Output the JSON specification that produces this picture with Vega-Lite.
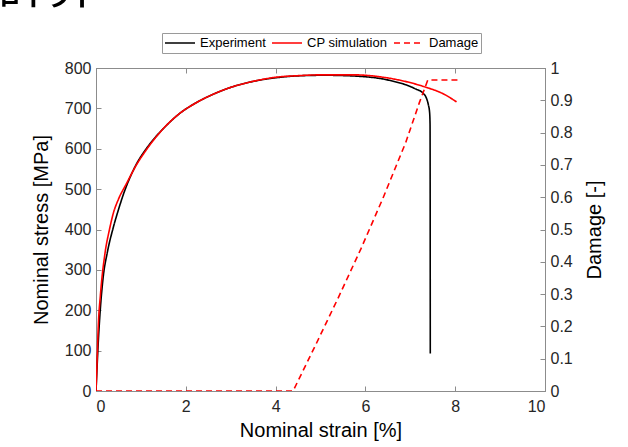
{
  "$schema": "https://vega.github.io/schema/vega-lite/v6.json",
  "width": 449,
  "height": 323,
  "autosize": {"type": "none"},
  "padding": {"left": 96, "top": 68, "right": 83, "bottom": 56},
  "background": "white",
  "title": {
    "text": "計算",
    "anchor": "start",
    "frame": "group",
    "orient": "top",
    "font": "Noto Sans CJK JP",
    "fontSize": 50,
    "fontWeight": "normal",
    "color": "black",
    "baseline": "alphabetic",
    "offset": 8,
    "dx": -98,
    "dy": 28
  },
  "config": {
    "font": "Liberation Sans",
    "view": {"stroke": "#8c8c8c", "strokeWidth": 1},
    "axis": {
      "grid": false,
      "domainColor": "#8c8c8c",
      "tickColor": "#8c8c8c",
      "tickSize": -5,
      "labelColor": "#262626",
      "titleColor": "black",
      "labelFont": "Liberation Sans",
      "titleFont": "Liberation Sans",
      "labelFontSize": 16,
      "titleFontSize": 20,
      "titleFontWeight": "normal"
    }
  },
  "datasets": {
    "stress": [
      {"series": "Experiment", "strain": 0, "stress": 0},
      {"series": "Experiment", "strain": 0.02, "stress": 50},
      {"series": "Experiment", "strain": 0.05, "stress": 120},
      {"series": "Experiment", "strain": 0.09, "stress": 193},
      {"series": "Experiment", "strain": 0.16, "stress": 282},
      {"series": "Experiment", "strain": 0.25, "stress": 342},
      {"series": "Experiment", "strain": 0.385, "stress": 405},
      {"series": "Experiment", "strain": 0.5, "stress": 449},
      {"series": "Experiment", "strain": 0.61, "stress": 487},
      {"series": "Experiment", "strain": 0.75, "stress": 527},
      {"series": "Experiment", "strain": 0.905, "stress": 563},
      {"series": "Experiment", "strain": 1.1, "stress": 597},
      {"series": "Experiment", "strain": 1.28, "stress": 623},
      {"series": "Experiment", "strain": 1.5, "stress": 650},
      {"series": "Experiment", "strain": 1.87, "stress": 688},
      {"series": "Experiment", "strain": 2.2, "stress": 712},
      {"series": "Experiment", "strain": 2.61, "stress": 735},
      {"series": "Experiment", "strain": 3.0, "stress": 752},
      {"series": "Experiment", "strain": 3.6, "stress": 769},
      {"series": "Experiment", "strain": 4.1, "stress": 777},
      {"series": "Experiment", "strain": 4.6, "stress": 781},
      {"series": "Experiment", "strain": 5.1, "stress": 782},
      {"series": "Experiment", "strain": 5.77, "stress": 780},
      {"series": "Experiment", "strain": 6.51, "stress": 770},
      {"series": "Experiment", "strain": 7.1, "stress": 749},
      {"series": "Experiment", "strain": 7.29, "stress": 737},
      {"series": "Experiment", "strain": 7.36, "stress": 725},
      {"series": "Experiment", "strain": 7.4, "stress": 710},
      {"series": "Experiment", "strain": 7.43, "stress": 690},
      {"series": "Experiment", "strain": 7.44, "stress": 660},
      {"series": "Experiment", "strain": 7.445, "stress": 93},
      {"series": "CP simulation", "strain": 0, "stress": 0},
      {"series": "CP simulation", "strain": 0.02, "stress": 60},
      {"series": "CP simulation", "strain": 0.05, "stress": 159},
      {"series": "CP simulation", "strain": 0.1, "stress": 240},
      {"series": "CP simulation", "strain": 0.2, "stress": 341},
      {"series": "CP simulation", "strain": 0.3, "stress": 400},
      {"series": "CP simulation", "strain": 0.385, "stress": 440},
      {"series": "CP simulation", "strain": 0.5, "stress": 475},
      {"series": "CP simulation", "strain": 0.68, "stress": 514},
      {"series": "CP simulation", "strain": 0.9, "stress": 560},
      {"series": "CP simulation", "strain": 1.1, "stress": 594},
      {"series": "CP simulation", "strain": 1.3, "stress": 624},
      {"series": "CP simulation", "strain": 1.5, "stress": 650},
      {"series": "CP simulation", "strain": 1.87, "stress": 688},
      {"series": "CP simulation", "strain": 2.2, "stress": 712},
      {"series": "CP simulation", "strain": 2.61, "stress": 735},
      {"series": "CP simulation", "strain": 3.0, "stress": 752},
      {"series": "CP simulation", "strain": 3.5, "stress": 767},
      {"series": "CP simulation", "strain": 4.0, "stress": 777},
      {"series": "CP simulation", "strain": 4.5, "stress": 781},
      {"series": "CP simulation", "strain": 5.0, "stress": 783},
      {"series": "CP simulation", "strain": 5.77, "stress": 783},
      {"series": "CP simulation", "strain": 6.4, "stress": 777},
      {"series": "CP simulation", "strain": 6.88, "stress": 767},
      {"series": "CP simulation", "strain": 7.3, "stress": 754},
      {"series": "CP simulation", "strain": 7.77, "stress": 734},
      {"series": "CP simulation", "strain": 8.03, "stress": 716}
    ],
    "damage": [
      {"series": "Damage", "strain": 0, "damage": 0},
      {"series": "Damage", "strain": 4.39, "damage": 0},
      {"series": "Damage", "strain": 4.9, "damage": 0.145},
      {"series": "Damage", "strain": 5.4, "damage": 0.29},
      {"series": "Damage", "strain": 5.9, "damage": 0.44},
      {"series": "Damage", "strain": 6.4, "damage": 0.6},
      {"series": "Damage", "strain": 6.9, "damage": 0.77},
      {"series": "Damage", "strain": 7.2, "damage": 0.892},
      {"series": "Damage", "strain": 7.39, "damage": 0.963},
      {"series": "Damage", "strain": 8.05, "damage": 0.963}
    ]
  },
  "layer": [
    {
      "data": {"name": "stress"},
      "mark": {"type": "line", "strokeWidth": 1.6, "clip": true, "interpolate": "monotone"},
      "encoding": {
        "x": {
          "field": "strain", "type": "quantitative",
          "scale": {"domain": [0, 10], "nice": false},
          "axis": {"orient": "bottom", "values": [0, 2, 4, 6, 8, 10], "title": "Nominal strain [%]", "labelPadding": 12, "titlePadding": 6}
        },
        "y": {
          "field": "stress", "type": "quantitative",
          "scale": {"domain": [0, 800], "nice": false},
          "axis": {"orient": "left", "values": [0, 100, 200, 300, 400, 500, 600, 700, 800], "title": "Nominal stress [MPa]", "labelPadding": 10, "titlePadding": 13}
        },
        "color": {
          "field": "series", "type": "nominal",
          "scale": {"domain": ["Experiment", "CP simulation", "Damage"], "range": ["#000000", "#ff0000", "#ff0000"]},
          "legend": {
            "title": null,
            "orient": "none",
            "legendX": 66,
            "legendY": -35,
            "direction": "horizontal",
            "symbolType": "stroke",
            "symbolSize": 900,
            "symbolStrokeWidth": 1.5,
            "clipHeight": 16,
            "labelFont": "Liberation Sans",
            "labelFontSize": 13,
            "labelColor": "black",
            "labelOffset": 4,
            "columnPadding": 5,
            "padding": 2,
            "strokeColor": "#9a9a9a",
            "fillColor": "white"
          }
        },
        "strokeDash": {
          "field": "series", "type": "nominal",
          "scale": {"domain": ["Experiment", "CP simulation", "Damage"], "range": [[1, 0], [1, 0], [6, 4]]},
          "legend": {
            "title": null,
            "orient": "none",
            "legendX": 66,
            "legendY": -35,
            "direction": "horizontal",
            "symbolType": "stroke",
            "symbolSize": 900,
            "symbolStrokeWidth": 1.5,
            "clipHeight": 16,
            "labelFont": "Liberation Sans",
            "labelFontSize": 13,
            "labelColor": "black",
            "labelOffset": 4,
            "columnPadding": 5,
            "padding": 2,
            "strokeColor": "#9a9a9a",
            "fillColor": "white"
          }
        }
      }
    },
    {
      "data": {"name": "damage"},
      "mark": {"type": "line", "strokeWidth": 1.6, "clip": true},
      "encoding": {
        "x": {"field": "strain", "type": "quantitative", "axis": {"orient": "top", "values": [0, 2, 4, 6, 8, 10], "labels": false, "title": null}},
        "y": {
          "field": "damage", "type": "quantitative",
          "scale": {"domain": [0, 1], "nice": false},
          "axis": {"orient": "right", "values": [0, 0.1, 0.2, 0.3, 0.4, 0.5, 0.6, 0.7, 0.8, 0.9, 1], "format": "~g", "title": "Damage [-]", "titleAngle": 270, "titleBaseline": "top", "labelPadding": 10, "titlePadding": 12}
        },
        "color": {"field": "series", "type": "nominal"},
        "strokeDash": {"field": "series", "type": "nominal"}
      }
    }
  ],
  "resolve": {"scale": {"y": "independent"}, "axis": {"x": "independent"}}
}
